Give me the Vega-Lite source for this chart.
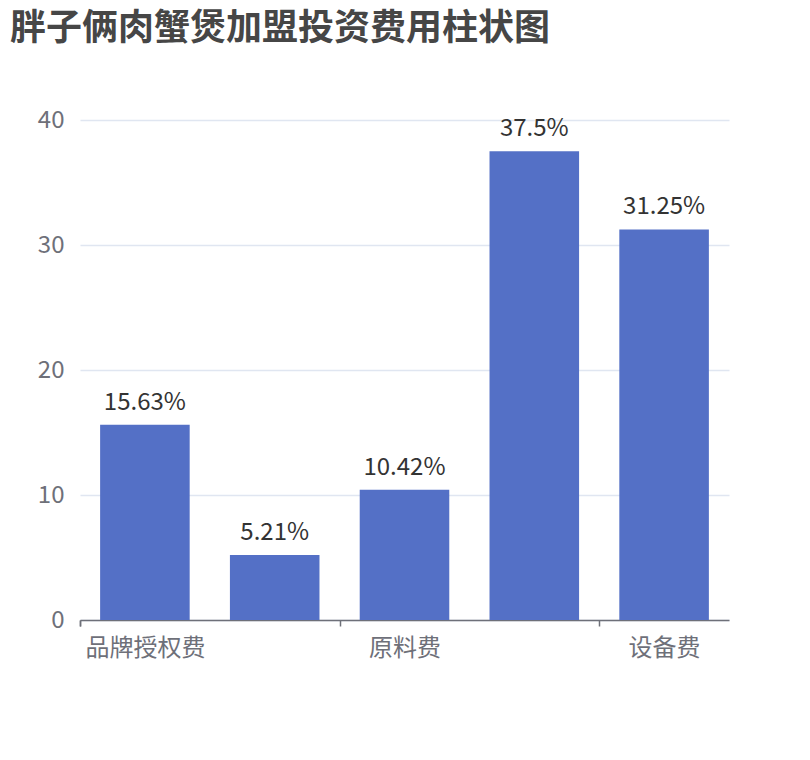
{
  "$schema": "https://vega.github.io/schema/vega-lite/v6.json",
  "autosize": "none",
  "width": 649,
  "height": 500,
  "padding": {"left": 80, "top": 120, "right": 81, "bottom": 140},
  "background": "white",
  "title": {
    "text": "胖子俩肉蟹煲加盟投资费用柱状图",
    "anchor": "start",
    "frame": "group",
    "dx": -70,
    "offset": 60,
    "font": "Noto Sans CJK SC",
    "fontSize": 36,
    "fontWeight": "bold",
    "color": "#464646"
  },
  "data": {
    "values": [
      {"item": "品牌授权费", "pct": 15.63, "label": "15.63%"},
      {"item": "加盟保证金", "pct": 5.21, "label": "5.21%"},
      {"item": "原料费", "pct": 10.42, "label": "10.42%"},
      {"item": "装修费", "pct": 37.5, "label": "37.5%"},
      {"item": "设备费", "pct": 31.25, "label": "31.25%"}
    ]
  },
  "encoding": {
    "x": {
      "field": "item",
      "type": "nominal",
      "sort": null,
      "scale": {"paddingInner": 0.31, "paddingOuter": 0.155},
      "axis": {
        "title": null,
        "values": ["品牌授权费", "原料费", "设备费"],
        "bandPosition": 0,
        "tickOffset": -20,
        "labelOffset": 20,
        "tickExtra": true,
        "labelAngle": 0,
        "labelFont": "Noto Sans CJK SC",
        "labelFontSize": 24,
        "labelColor": "#6E7079",
        "labelPadding": 10,
        "domainColor": "#6E7079",
        "domainWidth": 1.5,
        "tickColor": "#6E7079",
        "tickWidth": 1.5,
        "tickSize": 6,
        "grid": false
      }
    },
    "y": {
      "field": "pct",
      "type": "quantitative",
      "scale": {"domain": [0, 40], "nice": false},
      "axis": {
        "title": null,
        "values": [0, 10, 20, 30, 40],
        "domain": false,
        "ticks": false,
        "labelFont": "Noto Sans CJK SC",
        "labelFontSize": 24,
        "labelColor": "#6E7079",
        "labelPadding": 16,
        "gridColor": "#E0E6F1",
        "gridWidth": 1.5
      }
    }
  },
  "layer": [
    {"mark": {"type": "bar", "color": "#5470C6"}},
    {
      "mark": {
        "type": "text",
        "baseline": "bottom",
        "dy": -10,
        "font": "Noto Sans CJK SC",
        "fontSize": 24,
        "color": "#333333"
      },
      "encoding": {"text": {"field": "label"}}
    }
  ],
  "config": {"view": {"stroke": null}}
}
